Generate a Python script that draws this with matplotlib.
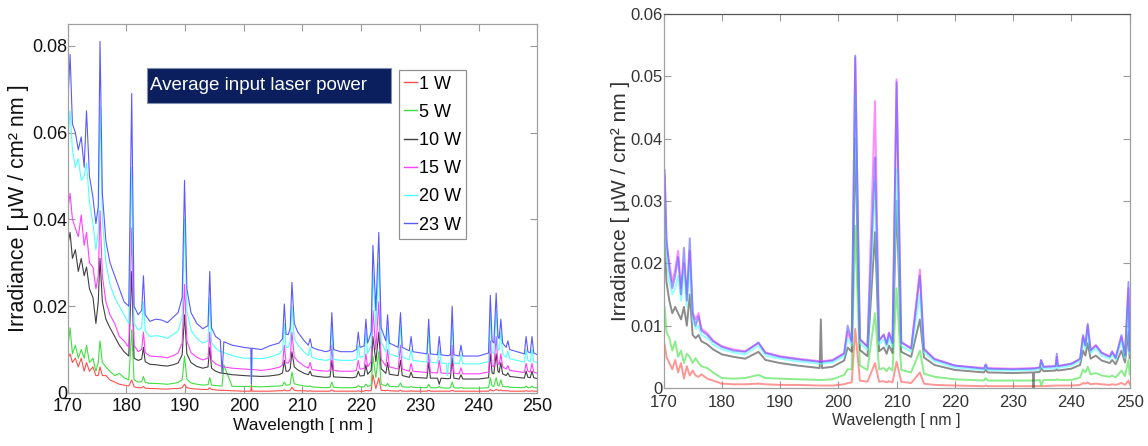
import matplotlib
matplotlib.use("Agg")
import matplotlib.pyplot as plt
from matplotlib.patches import Rectangle

plt.rcParams["font.family"] = ["Liberation Sans", "DejaVu Sans"]

# LEFT PANEL DATA ##############################################################

wl_left = [170.0, 170.4, 170.8, 171.3, 171.8, 172.3, 172.8, 173.2, 173.7, 174.3,
           174.8, 175.2, 175.5, 175.9, 176.5, 177.2, 178.0, 178.8, 179.6, 180.4,
           180.9,
           181.3, 182.0, 182.6, 182.9, 183.2, 184.0, 185.0, 186.0, 187.0, 188.0,
           188.8, 189.5, 189.9, 190.3, 191.0, 192.0, 193.0, 193.9, 194.2, 194.5,
           195.2, 196.0, 196.3, 196.6, 198.0, 200.0, 201.2, 201.3, 201.4,
           203.0, 204.3, 206.0, 206.6, 206.9, 207.2, 207.6, 207.9, 208.2, 208.6,
           209.2, 210.3, 211.0, 211.3, 211.6, 212.5, 214.0, 214.7, 215.0, 215.3,
           216.5, 218.5, 219.2, 219.5, 219.8, 220.5, 220.8, 221.1, 221.7, 222.0,
           222.5, 223.0, 223.4, 224.2, 224.5, 224.8, 226.3, 226.7, 227.0, 228.2,
           228.5, 228.8, 231.2, 231.5, 231.8, 233.0, 233.3, 233.6, 234.5, 234.7,
           234.9, 235.2, 235.5, 235.8, 236.7, 237.0, 237.3, 240.0, 241.7, 242.0,
           242.3, 242.6, 243.0, 243.3, 243.5, 243.8, 244.1, 244.7, 245.0, 245.3,
           247.8, 248.1, 248.4, 248.8, 249.1, 249.4, 250.0]

left_23w = [0.066, 0.078, 0.062, 0.060, 0.056, 0.059, 0.052, 0.065, 0.050, 0.045,
            0.039, 0.043, 0.081, 0.046, 0.035, 0.030, 0.027, 0.024, 0.021, 0.020,
            0.069,
            0.020, 0.018, 0.019, 0.027, 0.018, 0.0165, 0.0170, 0.0168, 0.0162, 0.0175,
            0.0185, 0.022, 0.049, 0.024, 0.0185, 0.0160, 0.0148, 0.0155, 0.028, 0.0150,
            0.0130, 0.0122, 0.0045, 0.0118, 0.0110, 0.0105, 0.0103, 0.0020, 0.0103,
            0.0100, 0.0108, 0.0115, 0.0125, 0.0205, 0.0135, 0.0135, 0.0150, 0.0255, 0.0160,
            0.0140, 0.0120, 0.0110, 0.0125, 0.0105, 0.0100, 0.0095, 0.0098, 0.0185, 0.0100,
            0.0095, 0.0095, 0.0100, 0.0140, 0.0105, 0.0108, 0.0170, 0.0115, 0.0140, 0.0340,
            0.0190, 0.0370, 0.0150, 0.0120, 0.0180, 0.0115, 0.0105, 0.0185, 0.0105, 0.0097,
            0.0130, 0.0095, 0.0090, 0.0170, 0.0090, 0.0088, 0.0130, 0.0088, 0.0086, 0.0086,
            0.0086, 0.0088, 0.0200, 0.0088, 0.0085, 0.0110, 0.0085, 0.0085, 0.0092, 0.0225,
            0.0120, 0.0115, 0.0230, 0.0130, 0.0125, 0.0170, 0.0115, 0.0105, 0.0120, 0.0100,
            0.0090, 0.0130, 0.0095, 0.0092, 0.0130, 0.0092, 0.0088]

left_20w = [0.058, 0.065, 0.056, 0.052, 0.054, 0.049, 0.050, 0.053, 0.044, 0.039,
            0.033, 0.037, 0.066, 0.040, 0.030, 0.025, 0.022, 0.020, 0.018, 0.016,
            0.052,
            0.016, 0.0145, 0.0150, 0.021, 0.0142, 0.0130, 0.0132, 0.0130, 0.0126, 0.0135,
            0.0143, 0.0175, 0.040, 0.019, 0.0145, 0.0125, 0.0115, 0.0120, 0.022, 0.0116,
            0.0103, 0.0095, 0.0095, 0.0093, 0.0086, 0.0080, 0.0080, 0.0020, 0.0080,
            0.0079, 0.0082, 0.0090, 0.0098, 0.0160, 0.0105, 0.0105, 0.0118, 0.0200, 0.0125,
            0.0110, 0.0094, 0.0086, 0.0105, 0.0082, 0.0078, 0.0075, 0.0077, 0.0155, 0.0078,
            0.0075, 0.0075, 0.0078, 0.0110, 0.0082, 0.0085, 0.0140, 0.0090, 0.0110, 0.0280,
            0.0150, 0.0300, 0.0118, 0.0094, 0.0150, 0.0090, 0.0083, 0.0155, 0.0083, 0.0076,
            0.0100, 0.0075, 0.0071, 0.0140, 0.0071, 0.0069, 0.0100, 0.0069, 0.0068, 0.0040,
            0.0068, 0.0069, 0.0165, 0.0069, 0.0067, 0.0088, 0.0067, 0.0067, 0.0072, 0.0180,
            0.0095, 0.0090, 0.0190, 0.0102, 0.0098, 0.0140, 0.0090, 0.0082, 0.0096, 0.0079,
            0.0071, 0.0100, 0.0075, 0.0072, 0.0100, 0.0072, 0.0070]

left_15w = [0.042, 0.046, 0.040, 0.038, 0.036, 0.041, 0.034, 0.037, 0.030, 0.029,
            0.024, 0.027, 0.042, 0.027, 0.021, 0.018, 0.016, 0.013, 0.012, 0.0105,
            0.038,
            0.011, 0.0095, 0.0100, 0.014, 0.0093, 0.0085, 0.0084, 0.0083, 0.0081, 0.0086,
            0.0092, 0.0115, 0.025, 0.0120, 0.0093, 0.0082, 0.0076, 0.0080, 0.014, 0.0076,
            0.0067, 0.0062, 0.0062, 0.0060, 0.0057, 0.0055, 0.0054, 0.0054, 0.0054,
            0.0052, 0.0054, 0.0059, 0.0064, 0.0110, 0.0069, 0.0069, 0.0078, 0.0140, 0.0083,
            0.0073, 0.0062, 0.0057, 0.0070, 0.0054, 0.0052, 0.0050, 0.0051, 0.0110, 0.0052,
            0.0050, 0.0050, 0.0052, 0.0075, 0.0055, 0.0056, 0.0090, 0.0060, 0.0073, 0.0190,
            0.0100, 0.0210, 0.0078, 0.0062, 0.0100, 0.0060, 0.0055, 0.0110, 0.0055, 0.0050,
            0.0068, 0.0050, 0.0047, 0.0090, 0.0047, 0.0046, 0.0075, 0.0046, 0.0045, 0.0045,
            0.0045, 0.0046, 0.0110, 0.0046, 0.0044, 0.0058, 0.0044, 0.0044, 0.0048, 0.0120,
            0.0063, 0.0060, 0.0130, 0.0068, 0.0065, 0.0090, 0.0060, 0.0055, 0.0063, 0.0052,
            0.0047, 0.0068, 0.0050, 0.0048, 0.0068, 0.0048, 0.0045]

left_10w = [0.034, 0.037, 0.031, 0.033, 0.028, 0.031, 0.027, 0.029, 0.024, 0.022,
            0.016, 0.021, 0.031, 0.021, 0.017, 0.015, 0.013, 0.011, 0.0095, 0.0085,
            0.028,
            0.008, 0.0075, 0.0078, 0.0105, 0.0072, 0.0066, 0.0065, 0.0063, 0.0062, 0.0065,
            0.0069, 0.0088, 0.018, 0.0090, 0.0070, 0.0061, 0.0057, 0.0060, 0.0105, 0.0057,
            0.0050, 0.0046, 0.0046, 0.0045, 0.0042, 0.0040, 0.0039, 0.0039, 0.0039,
            0.0038, 0.0039, 0.0042, 0.0046, 0.0075, 0.0050, 0.0050, 0.0056, 0.0095, 0.0060,
            0.0053, 0.0045, 0.0042, 0.0050, 0.0040, 0.0038, 0.0036, 0.0037, 0.0075, 0.0037,
            0.0036, 0.0035, 0.0037, 0.0050, 0.0039, 0.0040, 0.0065, 0.0043, 0.0052, 0.0130,
            0.0072, 0.0140, 0.0056, 0.0045, 0.0070, 0.0043, 0.0040, 0.0075, 0.0040, 0.0036,
            0.0048, 0.0036, 0.0034, 0.0070, 0.0034, 0.0034, 0.0020, 0.0034, 0.0033, 0.0033,
            0.0033, 0.0034, 0.0080, 0.0034, 0.0032, 0.0042, 0.0032, 0.0032, 0.0035, 0.0090,
            0.0046, 0.0044, 0.0090, 0.0050, 0.0047, 0.0070, 0.0044, 0.0040, 0.0046, 0.0038,
            0.0034, 0.0050, 0.0036, 0.0035, 0.0050, 0.0035, 0.0033]

left_5w = [0.010, 0.015, 0.009, 0.011, 0.008, 0.010, 0.008, 0.011, 0.007, 0.008,
           0.005, 0.007, 0.012, 0.007, 0.006, 0.005, 0.004, 0.0045, 0.0035, 0.003,
           0.0145,
           0.003, 0.0025, 0.0026, 0.0038, 0.0024, 0.0022, 0.0022, 0.0021, 0.0020, 0.0022,
           0.0024, 0.0030, 0.0085, 0.0032, 0.0023, 0.0020, 0.0018, 0.0019, 0.0035, 0.0018,
           0.0017, 0.0016, 0.0016, 0.0065, 0.0015, 0.0015, 0.0015, 0.0015, 0.0015,
           0.0014, 0.0015, 0.0016, 0.0017, 0.0025, 0.0018, 0.0018, 0.0020, 0.0048, 0.0021,
           0.0019, 0.0016, 0.0015, 0.0016, 0.0014, 0.0013, 0.0012, 0.0013, 0.0025, 0.0013,
           0.0012, 0.0012, 0.0013, 0.0017, 0.0014, 0.0014, 0.0020, 0.0015, 0.0018, 0.0085,
           0.0035, 0.0095, 0.0020, 0.0016, 0.0022, 0.0015, 0.0014, 0.0023, 0.0014, 0.0013,
           0.0015, 0.0013, 0.0012, 0.0020, 0.0012, 0.0012, 0.0015, 0.0012, 0.0011, 0.0011,
           0.0011, 0.0012, 0.0025, 0.0012, 0.0011, 0.0013, 0.0011, 0.0011, 0.0012, 0.0035,
           0.0016, 0.0015, 0.0035, 0.0017, 0.0016, 0.0030, 0.0015, 0.0014, 0.0015, 0.0013,
           0.0012, 0.0016, 0.0012, 0.0012, 0.0016, 0.0012, 0.0012]

left_1w = [0.008, 0.009, 0.007, 0.008, 0.006, 0.008, 0.005, 0.007, 0.005, 0.006,
           0.004, 0.004, 0.006, 0.004, 0.004, 0.003, 0.0025, 0.002, 0.0018, 0.0016,
           0.003,
           0.0014, 0.0012, 0.0012, 0.0015, 0.0011, 0.0010, 0.0010, 0.0009, 0.0009, 0.0010,
           0.0010, 0.0012, 0.0020, 0.0012, 0.0010, 0.0009, 0.0008, 0.0008, 0.0012, 0.0008,
           0.0007, 0.0006, 0.0006, 0.0006, 0.0005, 0.0004, 0.0004, 0.0018, 0.0004,
           0.0004, 0.0004, 0.0005, 0.0005, 0.0007, 0.0005, 0.0005, 0.0006, 0.0013, 0.0006,
           0.0005, 0.0005, 0.0004, 0.0005, 0.0004, 0.0004, 0.0004, 0.0004, 0.0007, 0.0004,
           0.0004, 0.0004, 0.0004, 0.0005, 0.0004, 0.0004, 0.0006, 0.0005, 0.0005, 0.0042,
           0.0010, 0.0035, 0.0006, 0.0005, 0.0006, 0.0005, 0.0004, 0.0006, 0.0004, 0.0004,
           0.0005, 0.0004, 0.0004, 0.0006, 0.0004, 0.0004, 0.0004, 0.0004, 0.0004, 0.0004,
           0.0004, 0.0004, 0.0006, 0.0004, 0.0004, 0.0004, 0.0004, 0.0004, 0.0004, 0.0008,
           0.0005, 0.0005, 0.0008, 0.0006, 0.0005, 0.0007, 0.0005, 0.0005, 0.0005, 0.0004,
           0.0004, 0.0005, 0.0004, 0.0004, 0.0005, 0.0004, 0.0004]

# RIGHT PANEL DATA #############################################################

wl_right = [170.0, 170.2, 170.5, 171.0, 171.5, 172.0, 172.5, 173.0, 173.5, 174.0,
            174.5, 175.0, 175.5, 176.0, 176.5, 177.5, 178.5, 180.0, 182.0, 184.0,
            186.3, 187.5, 190.0, 193.0, 196.8, 197.0, 197.2, 199.0, 201.0, 201.6,
            202.3, 202.9, 203.7, 205.0, 206.3, 207.0, 207.8, 208.3, 208.7, 209.3,
            210.0, 210.8, 212.5, 214.0, 214.7, 216.5, 220.0, 225.0, 225.3, 225.6,
            230.0, 233.4, 233.5, 233.6, 234.6, 234.8, 235.2, 237.3, 237.5, 237.7,
            240.0, 241.5, 242.0, 242.4, 242.8, 243.3, 244.2, 245.2, 246.6, 247.0,
            247.6, 248.6, 249.2, 249.8, 250.0]

right_23w = [0.025, 0.035, 0.024, 0.019, 0.016, 0.018, 0.021, 0.015, 0.0225, 0.014,
             0.024, 0.012, 0.010, 0.0115, 0.0092, 0.0085, 0.0075, 0.0066, 0.0060, 0.0058,
             0.0073, 0.0056, 0.0050, 0.0046, 0.0042, 0.0042, 0.0042, 0.0044, 0.0055, 0.0100,
             0.0075, 0.0533, 0.0078, 0.0066, 0.037, 0.0076, 0.0085, 0.0070, 0.0088, 0.0072,
             0.049, 0.0073, 0.0063, 0.018, 0.0062, 0.0046, 0.0036, 0.0031, 0.0038, 0.0031,
             0.0030, 0.0031, 0.0031, 0.0031, 0.0033, 0.0045, 0.0034, 0.0035, 0.0055, 0.0035,
             0.0039, 0.0047, 0.0085, 0.0068, 0.0103, 0.0060, 0.0068, 0.0056, 0.0050, 0.0058,
             0.0048, 0.0085, 0.0052, 0.0170, 0.0060]

right_20w = [0.022, 0.030, 0.021, 0.017, 0.015, 0.016, 0.018, 0.014, 0.019, 0.013,
             0.020, 0.011, 0.0095, 0.010, 0.0085, 0.008, 0.007, 0.0062, 0.0057, 0.0054,
             0.0068, 0.0052, 0.0047, 0.0043, 0.0039, 0.0039, 0.0039, 0.0041, 0.0051, 0.0080,
             0.0068, 0.047, 0.0072, 0.0061, 0.033, 0.0070, 0.0078, 0.0065, 0.0080, 0.0066,
             0.035, 0.0067, 0.0058, 0.015, 0.0057, 0.0043, 0.0033, 0.0029, 0.0035, 0.0029,
             0.0028, 0.0029, 0.0029, 0.0029, 0.0030, 0.0040, 0.0031, 0.0032, 0.0040, 0.0032,
             0.0036, 0.0043, 0.0075, 0.0063, 0.0090, 0.0056, 0.0063, 0.0052, 0.0047, 0.0054,
             0.0045, 0.0075, 0.0048, 0.0130, 0.0055]

right_15w = [0.024, 0.034, 0.023, 0.020, 0.017, 0.019, 0.022, 0.016, 0.020, 0.015,
             0.022, 0.012, 0.011, 0.012, 0.0095, 0.0088, 0.0076, 0.0067, 0.0062, 0.0059,
             0.0072, 0.0057, 0.0051, 0.0047, 0.0043, 0.0043, 0.0043, 0.0045, 0.0056, 0.0090,
             0.0072, 0.053, 0.0078, 0.0067, 0.046, 0.0077, 0.0086, 0.0071, 0.0089, 0.0073,
             0.0495, 0.0074, 0.0064, 0.019, 0.0063, 0.0047, 0.0036, 0.0032, 0.0037, 0.0032,
             0.0031, 0.0032, 0.0032, 0.0032, 0.0033, 0.0044, 0.0034, 0.0035, 0.0050, 0.0035,
             0.0039, 0.0046, 0.0082, 0.0069, 0.0100, 0.0061, 0.0069, 0.0057, 0.0051, 0.0059,
             0.0049, 0.0082, 0.0053, 0.0160, 0.0061]

right_10w = [0.018, 0.024, 0.017, 0.014, 0.012, 0.013, 0.012, 0.011, 0.013, 0.010,
             0.015, 0.0085, 0.008, 0.0085, 0.0075, 0.007, 0.0062, 0.0054, 0.0050, 0.0047,
             0.0058, 0.0045, 0.0040, 0.0036, 0.0032, 0.0110, 0.0032, 0.0034, 0.0044, 0.0065,
             0.0058, 0.040, 0.0061, 0.0051, 0.025, 0.0059, 0.0065, 0.0055, 0.0068, 0.0056,
             0.030, 0.0058, 0.0050, 0.011, 0.0049, 0.0037, 0.0029, 0.0025, 0.0030, 0.0025,
             0.0024, 0.0025, 0.0000, 0.0025, 0.0026, 0.0032, 0.0027, 0.0028, 0.0030, 0.0028,
             0.0031, 0.0037, 0.0060, 0.0052, 0.0072, 0.0047, 0.0052, 0.0044, 0.0040, 0.0045,
             0.0038, 0.0060, 0.0041, 0.0090, 0.0048]

right_5w = [0.011, 0.013, 0.009, 0.008, 0.006, 0.0075, 0.005, 0.006, 0.004, 0.0055,
            0.005, 0.004, 0.0048, 0.004, 0.0035, 0.0032, 0.0025, 0.0016, 0.0015, 0.0016,
            0.0021, 0.0016, 0.0015, 0.0014, 0.0013, 0.0013, 0.0013, 0.0014, 0.0021, 0.0030,
            0.0030, 0.026, 0.0036, 0.0029, 0.012, 0.0030, 0.0032, 0.0027, 0.0033, 0.0028,
            0.016, 0.0029, 0.0025, 0.006, 0.0023, 0.0018, 0.0014, 0.0012, 0.0016, 0.0012,
            0.0012, 0.0012, 0.0012, 0.0012, 0.0013, 0.0004, 0.0013, 0.0013, 0.0014, 0.0013,
            0.0013, 0.0017, 0.0030, 0.0025, 0.0034, 0.0022, 0.0024, 0.0020, 0.0018, 0.0020,
            0.0017, 0.0028, 0.0019, 0.0045, 0.0022]

right_1w = [0.006, 0.007, 0.005, 0.004, 0.003, 0.0045, 0.0025, 0.004, 0.0015, 0.0035,
            0.002, 0.0028, 0.002, 0.0018, 0.0022, 0.0015, 0.0012, 0.0007, 0.0006, 0.0006,
            0.0007, 0.0006, 0.0005, 0.0005, 0.0004, 0.0004, 0.0004, 0.0004, 0.0006, 0.0008,
            0.0009, 0.0095, 0.0012, 0.0010, 0.0040, 0.0010, 0.0011, 0.0009, 0.0011, 0.0009,
            0.0042, 0.0010, 0.0008, 0.0025, 0.0007, 0.0005, 0.0004, 0.0003, 0.0004, 0.0003,
            0.0003, 0.0003, 0.0003, 0.0003, 0.0003, 0.0003, 0.0003, 0.0004, 0.0004, 0.0004,
            0.0004, 0.0005, 0.0008, 0.0007, 0.0009, 0.0006, 0.0007, 0.0006, 0.0005, 0.0006,
            0.0005, 0.0008, 0.0005, 0.0012, 0.0006]

labels = ["1 W", "5 W", "10 W", "15 W", "20 W", "23 W"]
colors = ["#ff5050", "#40e040", "#404040", "#ff40ff", "#50ffff", "#5a5aff"]

left_series = [left_1w, left_5w, left_10w, left_15w, left_20w, left_23w]
right_series = [right_1w, right_5w, right_10w, right_15w, right_20w, right_23w]

print(len(wl_left), [len(s) for s in left_series])
print(len(wl_right), [len(s) for s in right_series])

ylabel = "Irradiance [ \u03bcW / cm\u00b2 nm ]"


def style_axes(ax, ymax, yticks, fs, col, xl_fs, yl_fs, xpad, xlpad, ylpad):
    ax.set_xlim(170, 250)
    ax.set_ylim(0, ymax)
    ax.set_xticks(range(170, 251, 10))
    ax.set_yticks(yticks)
    ax.set_yticklabels(["0" if t == 0 else ("%g" % t) for t in yticks])
    ax.tick_params(direction="in", length=5, width=0.8, color="#9a9a9a",
                   top=True, right=True, labelsize=fs, labelcolor=col)
    ax.tick_params(axis="y", pad=0.5)
    ax.tick_params(axis="x", pad=xpad)
    for s in ax.spines.values():
        s.set_color("#a0a0a0")
        s.set_linewidth(0.9)
    ax.set_xlabel("Wavelength [ nm ]", fontsize=xl_fs, color=col, labelpad=xlpad)
    ax.set_ylabel(ylabel, fontsize=yl_fs, color=col, labelpad=ylpad)


fig = plt.figure(figsize=(11.48, 4.46), dpi=100)

# left panel
ax1 = fig.add_axes([0.059, 0.119, 0.409, 0.827])
for vals, lab, c in zip(left_series, labels, colors):
    ax1.plot(wl_left, vals, color=c, lw=0.8, label=lab)
style_axes(ax1, 0.085, [0, 0.02, 0.04, 0.06, 0.08], 13, "#111111",
           12.5, 15.5, 3.5, 2.5, 2)

leg = ax1.legend(loc="upper left", bbox_to_anchor=(0.705, 0.875), fontsize=13,
                 handlelength=0.7, handletextpad=0.1, borderpad=0.3,
                 labelspacing=0.62, fancybox=False, framealpha=1,
                 borderaxespad=0)
leg.get_frame().set_edgecolor("#909090")
leg.get_frame().set_linewidth(0.9)
for h in leg.get_lines():
    h.set_linewidth(1.0)

ax1.add_patch(Rectangle((0.169, 0.786), 0.519, 0.095, transform=ax1.transAxes,
                        facecolor="#0b1f5e", edgecolor="#8090b0", lw=0.8, zorder=5))
ax1.text(0.176, 0.834, "Average input laser power", transform=ax1.transAxes,
         fontsize=13.5, color="white", va="center", ha="left", zorder=6)

# right panel
ax2 = fig.add_axes([0.578, 0.130, 0.406, 0.839])
for vals, c in zip(right_series, colors):
    ax2.plot(wl_right, vals, color=c, lw=1.4, alpha=0.6)
style_axes(ax2, 0.06, [0, 0.01, 0.02, 0.03, 0.04, 0.05, 0.06], 12, "#333333",
           11.5, 15, 5, 2.5, 0.5)
ax2.spines["top"].set_color("#555555")

fig.savefig("out.png", dpi=100)
